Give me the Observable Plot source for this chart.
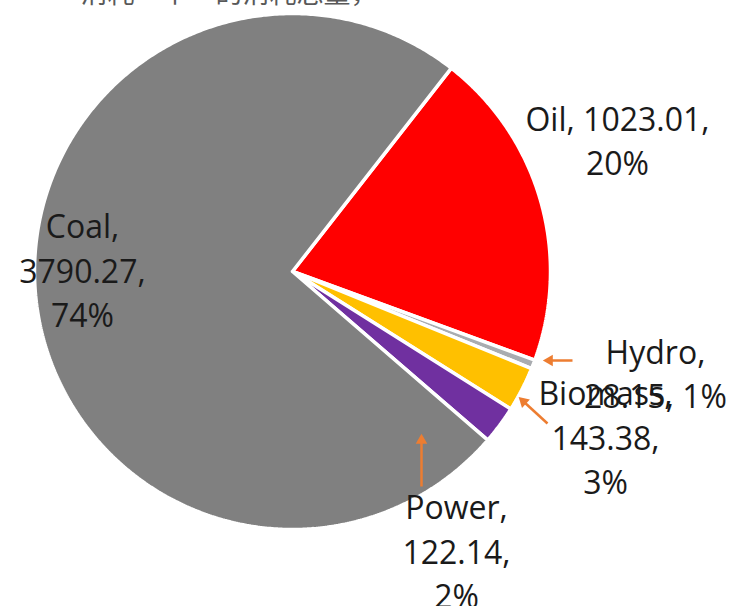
<!DOCTYPE html>
<html>
<head>
<meta charset="utf-8">
<script src="https://cdn.jsdelivr.net/npm/d3@7"></script>
<script src="https://cdn.jsdelivr.net/npm/@observablehq/plot@0.6"></script>
<style>
  html, body { margin: 0; padding: 0; background: #fff; overflow: hidden; }
</style>
</head>
<body>
<div id="chart"></div>
<script>
// ---- data ----
const categories = ["Oil", "Hydro", "Biomass", "Power", "Coal"];
const values = [1023.01, 28.15, 143.38, 122.14, 3790.27];
const colors = ["#ff0000", "#a9acb0", "#ffc000", "#7030a0", "#808080"];
const titleText = "消耗一个一的消耗总量，";

// ---- layout (positions, not data) ----
const W = 733, H = 606;
const cx = 292, cy = 271, R = 258;
const startDeg = 38;
// label block centres (x, y) and the line-break pattern for each label
const labelPos = {
  Oil: [617, 138], Hydro: [655, 371], Biomass: [605, 435], Power: [456, 549], Coal: [82, 268]
};
const labelBreak = { Oil: [", ", ",\n"], Hydro: [",\n", ", "], Biomass: [",\n", ",\n"], Power: [",\n", ",\n"], Coal: [",\n", ",\n"] };
// annotation arrows: tail -> head
const arrows = [
  { x1: 572, y1: 360, x2: 549, y2: 360, rot: -90 },
  { x1: 547, y1: 423, x2: 523, y2: 401, rot: -47 },
  { x1: 421, y1: 486, x2: 421, y2: 440, rot: 0 }
];

// ---- build slices ----
const total = d3.sum(values);
let acc = startDeg;
const polys = [];
const labels = [];
categories.forEach((name, i) => {
  const span = values[i] / total * 360;
  const a0 = acc, a1 = acc + span;
  acc = a1;
  const n = Math.max(4, Math.ceil(span * 2));
  polys.push({ name, x: cx, y: cy });
  for (let k = 0; k <= n; k++) {
    const a = (a0 + (a1 - a0) * k / n) * Math.PI / 180;
    polys.push({ name, x: cx + R * Math.sin(a), y: cy - R * Math.cos(a) });
  }
  polys.push({ name, x: cx, y: cy });
  const pct = Math.round(values[i] / total * 100);
  const br = labelBreak[name];
  labels.push({
    name,
    x: labelPos[name][0], y: labelPos[name][1],
    text: name + br[0] + values[i].toFixed(2) + br[1] + pct + "%"
  });
});

const chart = Plot.plot({
  width: W, height: H,
  margin: 0,
  x: { domain: [0, W], range: [0, W], axis: null },
  y: { domain: [0, H], range: [0, H], axis: null },
  color: { domain: categories, range: colors },
  style: { background: "#fff", overflow: "hidden" },
  marks: [
    Plot.text([titleText], { x: () => 80, y: () => -6, text: d => d, textAnchor: "start", fontSize: 27, fill: "#595959", fontFamily: "Noto Sans CJK SC" }),
    Plot.line(polys, { x: "x", y: "y", z: "name", fill: "name", stroke: "white", strokeWidth: 3.5, strokeLinejoin: "miter", curve: "linear" }),
    Plot.link(arrows, { x1: "x1", y1: "y1", x2: "x2", y2: "y2", stroke: "#ed7d31", strokeWidth: 2.5 }),
    Plot.dot(arrows, { x: "x2", y: "y2", symbol: "triangle2", r: 5.5, fill: "#ed7d31", stroke: "none", rotate: "rot" }),
    Plot.text(labels, { x: "x", y: "y", text: "text", fontSize: 32, lineHeight: 1.38, fill: "#1a1a1a", fontFamily: "Open Sans", textAnchor: "middle" })
  ]
});
document.getElementById("chart").appendChild(chart);
</script>
</body>
</html>
